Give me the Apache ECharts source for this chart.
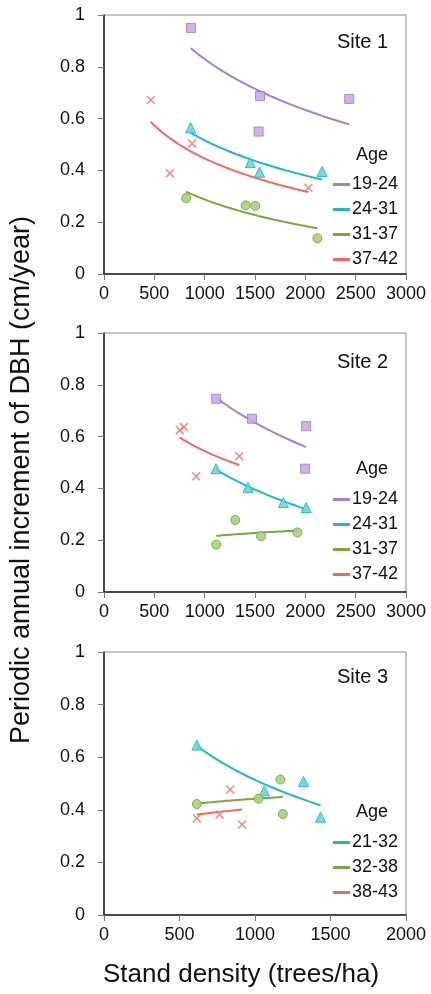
<!DOCTYPE html>
<html>
<head>
<meta charset="utf-8">
<script src="https://cdn.jsdelivr.net/npm/echarts@6/dist/echarts.min.js"></script>
<style>
  html, body { margin: 0; padding: 0; background: #fff; }
  #main { width: 431px; height: 994px; }
</style>
</head>
<body>
<div id="main"></div>
<script>
// observed points [stand density, increment] per age class and site
const s1_1924 = [[863, 0.95], [1550, 0.687], [1536, 0.55], [2436, 0.676]];
const s1_2431 = [[860, 0.565], [1453, 0.43], [1546, 0.393], [2167, 0.396]];
const s1_3137 = [[816, 0.293], [1407, 0.265], [1503, 0.263], [2120, 0.138]];
const s1_3742 = [[465, 0.672], [654, 0.389], [876, 0.504], [2031, 0.333]];

const s2_1924 = [[1115, 0.746], [1470, 0.669], [2008, 0.640], [1998, 0.476]];
const s2_2431 = [[1112, 0.476], [1430, 0.404], [1782, 0.345], [2008, 0.326]];
const s2_3137 = [[1115, 0.183], [1304, 0.278], [1560, 0.215], [1921, 0.230]];
const s2_3742 = [[753, 0.625], [793, 0.637], [916, 0.447], [1344, 0.524]];

const s3_2132 = [[615, 0.646], [1062, 0.472], [1321, 0.508], [1434, 0.372]];
const s3_3238 = [[615, 0.422], [1024, 0.442], [1168, 0.515], [1184, 0.384]];
const s3_3843 = [[615, 0.368], [765, 0.382], [836, 0.477], [914, 0.344]];

const ages1 = ['19-24', '24-31', '31-37', '37-42'];
const ages3 = ['21-32', '32-38', '38-43'];
const siteNames = ['Site 1', 'Site 2', 'Site 3'];
const xMax = [3000, 3000, 2000];

// colours: [line, marker fill, marker border]
const cPurple = ['#a581cc', '#c8aee0', '#a581cc'];
const cCyan = ['#1fb8c3', '#6fd3d9', '#1fb8c3'];
const cGreen = ['#78a93a', '#a9d085', '#78a93a'];
const cRed = ['#ef6b61', '#ef6b61', '#ef6b61'];
const crossPath = 'path://M0,0L10,10M10,0L0,10';

const panels = [
  { groups: [[ages1[0], s1_1924, cPurple, 'rect'], [ages1[1], s1_2431, cCyan, 'triangle'],
             [ages1[2], s1_3137, cGreen, 'circle'], [ages1[3], s1_3742, cRed, crossPath]] },
  { groups: [[ages1[0], s2_1924, cPurple, 'rect'], [ages1[1], s2_2431, cCyan, 'triangle'],
             [ages1[2], s2_3137, cGreen, 'circle'], [ages1[3], s2_3742, cRed, crossPath]] },
  { groups: [[ages3[0], s3_2132, cCyan, 'triangle'], [ages3[1], s3_3238, cGreen, 'circle'],
             [ages3[2], s3_3843, cRed, crossPath]] }
];

// excel-style logarithmic trend: y = a*ln(x) + b, fitted on the points
function logTrend(pts) {
  const n = pts.length;
  const lx = pts.map(p => Math.log(p[0]));
  const mx = lx.reduce((s, v) => s + v, 0) / n;
  const my = pts.reduce((s, p) => s + p[1], 0) / n;
  let sxy = 0, sxx = 0;
  pts.forEach((p, i) => { sxy += (lx[i] - mx) * (p[1] - my); sxx += (lx[i] - mx) ** 2; });
  const a = sxy / sxx, b = my - a * mx;
  const xs = pts.map(p => p[0]);
  const x0 = Math.min(...xs), x1 = Math.max(...xs);
  const out = [];
  for (let k = 0; k <= 40; k++) {
    const x = x0 + (x1 - x0) * k / 40;
    out.push([x, a * Math.log(x) + b]);
  }
  return out;
}

const gridTops = [15, 333, 652];
const gridHeights = [259, 259, 263];
const font = 'Liberation Sans, Arial, sans-serif';

const grids = [], xAxes = [], yAxes = [], series = [], legends = [], graphics = [];

panels.forEach((pn, i) => {
  grids.push({ left: 104, top: gridTops[i], width: 302, height: gridHeights[i],
    show: true, borderColor: '#8c8c8c', borderWidth: 1 });
  xAxes.push({
    gridIndex: i, type: 'value', min: 0, max: xMax[i], interval: 500,
    axisLine: { onZero: false, lineStyle: { color: '#222', width: 1.5 } },
    axisTick: { show: true, length: 6, lineStyle: { color: '#777' } },
    axisLabel: { color: '#111', fontSize: 18, fontFamily: font, margin: 11,
      formatter: v => String(v) },
    splitLine: { show: false }
  });
  yAxes.push({
    gridIndex: i, type: 'value', min: 0, max: 1, interval: 0.2,
    axisLine: { show: true, onZero: false, lineStyle: { color: '#222', width: 1.5 } },
    axisTick: { show: true, length: 6, lineStyle: { color: '#777' } },
    axisLabel: { color: '#111', fontSize: 18, fontFamily: font, margin: 19 },
    splitLine: { show: false }
  });

  pn.groups.forEach(g => {
    const [name, pts, col, sym] = g;
    const isCross = sym === crossPath;
    series.push({
      name: name, type: 'line', xAxisIndex: i, yAxisIndex: i,
      data: logTrend(pts), showSymbol: false, symbol: 'none', smooth: false,
      lineStyle: { color: col[0], width: 2 }, itemStyle: { color: col[0] },
      silent: true, z: 2
    });
    series.push({
      name: name + ' obs', type: 'scatter', xAxisIndex: i, yAxisIndex: i,
      data: pts, symbol: sym,
      symbolSize: isCross ? 8 : (sym === 'triangle' ? 10 : 9),
      itemStyle: isCross
        ? { color: 'rgba(0,0,0,0)', borderColor: col[2], borderWidth: 1.5 }
        : { color: col[1], borderColor: col[2], borderWidth: 1, opacity: 0.9 },
      z: 3
    });
  });

  const legTop = [170, 485, 828][i];
  legends.push({
    orient: 'vertical', left: 328, top: legTop, selectedMode: false,
    icon: 'rect', itemWidth: 17, itemHeight: 3, itemGap: 6,
    data: pn.groups.map(g => ({ name: g[0], itemStyle: { color: g[2][0] } })),
    textStyle: { fontSize: 18, fontFamily: font, color: '#111', lineHeight: 19, padding: [0, 0, 0, -3] }
  });

  graphics.push({
    type: 'text', left: 337, top: [32, 352, 667][i],
    style: { text: siteNames[i], fontSize: 20, fontFamily: font, fill: '#111' }
  });
  graphics.push({
    type: 'text', left: 356, top: [146, 460, 803][i],
    style: { text: 'Age', fontSize: 18, fontFamily: font, fill: '#111' }
  });
});

graphics.push({
  type: 'text', left: 103, top: 962,
  style: { text: 'Stand density (trees/ha)', fontSize: 26, fontFamily: font, fill: '#111' }
});
graphics.push({
  type: 'text', x: 22, y: 480, rotation: Math.PI / 2,
  style: { text: 'Periodic annual increment of DBH (cm/year)', fontSize: 27, fontFamily: font,
    fill: '#111', align: 'center', verticalAlign: 'middle' }
});

const chart = echarts.init(document.getElementById('main'), null, { renderer: 'canvas' });
chart.setOption({
  animation: false,
  backgroundColor: '#fff',
  grid: grids, xAxis: xAxes, yAxis: yAxes,
  legend: legends, series: series, graphic: graphics
});
</script>
</body>
</html>
